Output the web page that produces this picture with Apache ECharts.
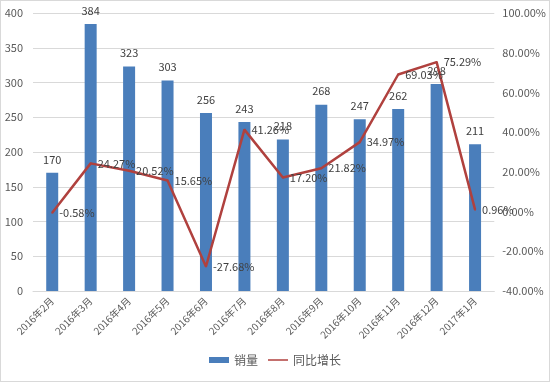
<!DOCTYPE html>
<html><head><meta charset="utf-8">
<script src="https://cdn.jsdelivr.net/npm/echarts@6/dist/echarts.min.js"></script>
<style>html,body{margin:0;padding:0;background:#fff}#c{width:548px;height:380px;border:1px solid #D9D9D9}</style>
</head><body><div id="c"></div>
<script>
const categories = ['2016年2月','2016年3月','2016年4月','2016年5月','2016年6月','2016年7月','2016年8月','2016年9月','2016年10月','2016年11月','2016年12月','2017年1月'];
const sales = [170,384,323,303,256,243,218,268,247,262,298,211];
const growth = [-0.58,24.27,20.52,15.65,-27.68,41.26,17.20,21.82,34.97,69.03,75.29,0.96];
const leftTicks = {min:0,max:400,interval:50};
const rightTicks = {min:-40,max:100,interval:20};
const font = '"Noto Sans CJK SC", "Noto Sans", sans-serif';
const chart = echarts.init(document.getElementById('c'));
chart.setOption({
  animation:false,
  textStyle:{fontFamily:font},
  grid:{left:32,right:52,top:12,bottom:90},
  legend:{bottom:10,left:'center',itemGap:10,textStyle:{color:'#595959',fontSize:12,fontFamily:font},
    data:[{name:'销量',icon:'rect'},{name:'同比增长',icon:'path://M0,2.5L20,2.5L20,4L0,4Z'}],itemWidth:20,itemHeight:6},
  xAxis:{type:'category',data:categories,
    axisLine:{lineStyle:{color:'#D9D9D9'}},axisTick:{show:false},
    axisLabel:{rotate:45,color:'#595959',fontSize:10,interval:0,margin:8,fontFamily:font}},
  yAxis:[
    {type:'value',min:leftTicks.min,max:leftTicks.max,interval:leftTicks.interval,
     axisLine:{show:false},axisTick:{show:false},
     axisLabel:{color:'#595959',fontSize:11,margin:10},
     splitLine:{lineStyle:{color:'#D9D9D9'}}},
    {type:'value',min:rightTicks.min,max:rightTicks.max,interval:rightTicks.interval,
     axisLine:{show:false},axisTick:{show:false},splitLine:{show:false},
     axisLabel:{color:'#595959',fontSize:11,margin:8,formatter:v=>v.toFixed(2)+'%'}}
  ],
  series:[
    {name:'销量',type:'bar',data:sales,barWidth:12,itemStyle:{color:'#4A7EBB'},
     label:{show:true,position:'top',distance:8,color:'#404040',fontSize:11}},
    {name:'同比增长',type:'line',yAxisIndex:1,data:growth,symbol:'circle',symbolSize:2,showSymbol:true,
     lineStyle:{color:'#B0413E',width:2.5},itemStyle:{color:'#B0413E'},
     label:{show:true,position:'right',distance:6,color:'#404040',fontSize:11,formatter:p=>p.value.toFixed(2)+'%'}}
  ]
});
</script></body></html>
